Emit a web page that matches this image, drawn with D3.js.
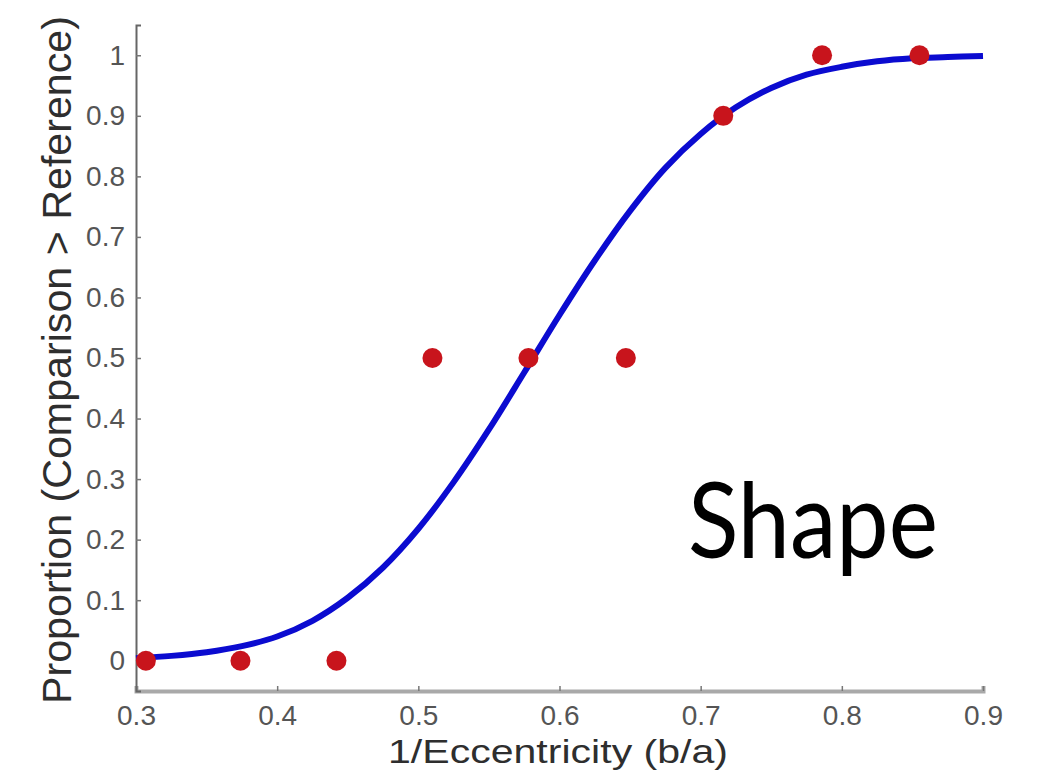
<!DOCTYPE html>
<html>
<head>
<meta charset="utf-8">
<script src="https://cdn.jsdelivr.net/npm/d3@7"></script>
<style>
  body { margin: 0; background: #fff; }
  svg { display: block; }
</style>
</head>
<body>
<div id="chart"></div>
<script>
// observed proportions
const stimX = [0.307, 0.374, 0.442, 0.510, 0.578, 0.647, 0.716, 0.786, 0.855];
const propY = [0, 0, 0, 0.5, 0.5, 0.5, 0.9, 1, 1];

// fitted curve
const fitX = [0.300, 0.325, 0.350, 0.375, 0.400, 0.425, 0.450, 0.475, 0.500, 0.525, 0.550, 0.575,
              0.600, 0.625, 0.650, 0.675, 0.700, 0.725, 0.750, 0.775, 0.800, 0.825, 0.850, 0.875, 0.900];
const fitY = [0.004, 0.008, 0.014, 0.024, 0.040, 0.066, 0.104, 0.154, 0.218, 0.295, 0.382, 0.476,
              0.571, 0.661, 0.743, 0.814, 0.870, 0.914, 0.946, 0.968, 0.981, 0.990, 0.995, 0.997, 0.999];

const xTicks = [0.3, 0.4, 0.5, 0.6, 0.7, 0.8, 0.9];
const yTicks = [0, 0.1, 0.2, 0.3, 0.4, 0.5, 0.6, 0.7, 0.8, 0.9, 1];

const config = { width: 1039, height: 772, left: 136, right: 983, top: 25, bottom: 691 };

const svg = d3.select("#chart").append("svg")
    .attr("width", config.width)
    .attr("height", config.height);

const x = d3.scaleLinear().domain([0.3, 0.9]).range([config.left, config.right]);
const y = d3.scaleLinear().domain([-0.05, 1.05]).range([config.bottom, config.top]);

// bottom axis (ticks point up into the plot)
const xAxis = d3.axisBottom(x).tickValues(xTicks).tickSize(-5).tickPadding(14)
    .tickFormat(d3.format(".1f"));
const gx = svg.append("g")
    .attr("transform", `translate(0,${config.bottom})`)
    .call(xAxis);
gx.select(".domain").attr("stroke", "#a9a9a9").attr("stroke-width", 4);
gx.selectAll(".tick line").attr("stroke", "#777").attr("stroke-width", 1.5);
gx.selectAll(".tick text")
    .attr("fill", "#555")
    .style("font-family", "'Liberation Sans', Arial, sans-serif")
    .style("font-size", "28px");

// left axis
const yAxis = d3.axisLeft(y).tickValues(yTicks).tickSize(-5).tickPadding(11)
    .tickFormat(d => d === 0 || d === 1 ? d3.format("d")(d) : d3.format(".1f")(d));
const gy = svg.append("g")
    .attr("transform", `translate(${config.left},0)`)
    .call(yAxis);
gy.select(".domain").attr("stroke", "#666").attr("stroke-width", 2);
gy.selectAll(".tick line").attr("stroke", "#777").attr("stroke-width", 1.5);
gy.selectAll(".tick text")
    .attr("fill", "#555")
    .style("font-family", "'Liberation Sans', Arial, sans-serif")
    .style("font-size", "28px");

// axis titles
svg.append("text")
    .attr("x", 558)
    .attr("y", 763)
    .attr("text-anchor", "middle")
    .attr("fill", "#2e2e2e")
    .attr("textLength", 340)
    .attr("lengthAdjust", "spacingAndGlyphs")
    .style("font-family", "'Liberation Sans', Arial, sans-serif")
    .style("font-size", "33px")
    .text("1/Eccentricity (b/a)");

svg.append("text")
    .attr("transform", "translate(71,360) rotate(-90)")
    .attr("text-anchor", "middle")
    .attr("fill", "#2e2e2e")
    .attr("textLength", 688)
    .attr("lengthAdjust", "spacingAndGlyphs")
    .style("font-family", "'Liberation Sans', Arial, sans-serif")
    .style("font-size", "40px")
    .text("Proportion (Comparison > Reference)");

// fitted curve
const line = d3.line()
    .x(d => x(d[0]))
    .y(d => y(d[1]))
    .curve(d3.curveCatmullRom);

svg.append("path")
    .datum(d3.zip(fitX, fitY))
    .attr("d", line)
    .attr("fill", "none")
    .attr("stroke", "#0b0bd0")
    .attr("stroke-width", 6);

// data points
svg.append("g")
    .selectAll("circle")
    .data(d3.zip(stimX, propY))
    .enter().append("circle")
        .attr("cx", d => x(d[0]))
        .attr("cy", d => y(d[1]))
        .attr("r", 10)
        .attr("fill", "#c8141c");

// label
svg.append("text")
    .attr("x", 688)
    .attr("y", 558)
    .attr("fill", "#000")
    .attr("textLength", 250)
    .attr("lengthAdjust", "spacingAndGlyphs")
    .style("font-family", "Lato, 'Open Sans', sans-serif")
    .style("font-size", "104px")
    .text("Shape");
</script>
</body>
</html>
